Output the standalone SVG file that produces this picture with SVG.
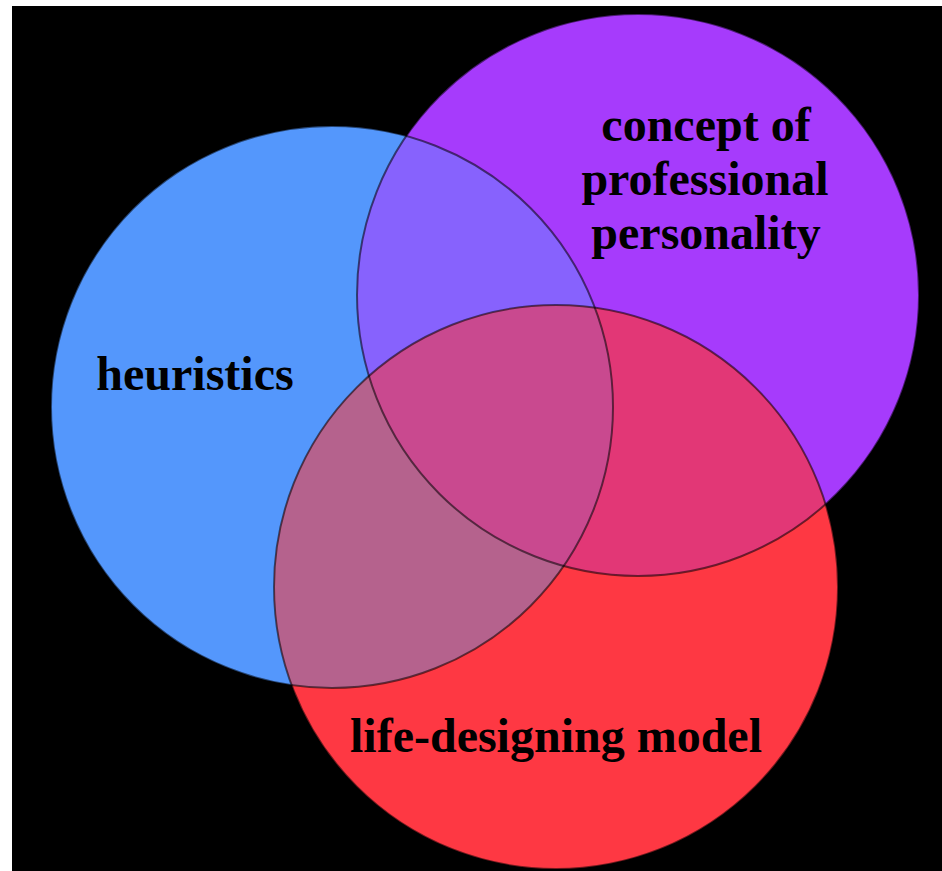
<svg xmlns="http://www.w3.org/2000/svg" width="942" height="871" viewBox="0 0 942 871">
  <style>
    .lbl { font-family: "Liberation Serif", "Times New Roman", serif; font-weight: bold; font-size: 48px; fill: #000; text-anchor: middle; }
    .ring { fill: none; stroke: #000; stroke-opacity: 0.55; stroke-width: 2; }
  </style>
  <defs>
    <clipPath id="clipBlue"><circle cx="332" cy="407" r="281"/></clipPath>
    <clipPath id="clipPurple"><circle cx="638" cy="295" r="281"/></clipPath>
  </defs>
  <rect x="0" y="0" width="942" height="871" fill="#ffffff"/>
  <rect x="12" y="6" width="930" height="865" fill="#000000"/>

  <g id="heuristics">
    <circle cx="332" cy="407" r="281" fill="#5497FC"/>
  </g>
  <g id="professional-personality">
    <circle cx="638" cy="295" r="281" fill="#A63BFC"/>
  </g>
  <g id="life-designing-model">
    <circle cx="556" cy="587" r="282" fill="#FE3843"/>
  </g>

  <g id="overlaps">
    <circle cx="638" cy="295" r="281" fill="#8762FD" clip-path="url(#clipBlue)"/>
    <circle cx="556" cy="587" r="282" fill="#E23776" clip-path="url(#clipPurple)"/>
    <circle cx="556" cy="587" r="282" fill="#B5628D" clip-path="url(#clipBlue)"/>
    <g clip-path="url(#clipBlue)">
      <circle cx="556" cy="587" r="282" fill="#C9498F" clip-path="url(#clipPurple)"/>
    </g>
  </g>

  <g id="outlines">
    <circle class="ring" cx="332" cy="407" r="281"/>
    <circle class="ring" cx="638" cy="295" r="281"/>
    <circle class="ring" cx="556" cy="587" r="282"/>
  </g>

  <g id="labels">
    <text class="lbl" x="195" y="390">heuristics</text>
    <text class="lbl" x="706" y="141">concept of</text>
    <text class="lbl" x="705" y="195">professional</text>
    <text class="lbl" x="706" y="249">personality</text>
    <text class="lbl" x="556" y="752">life-designing model</text>
  </g>
</svg>
